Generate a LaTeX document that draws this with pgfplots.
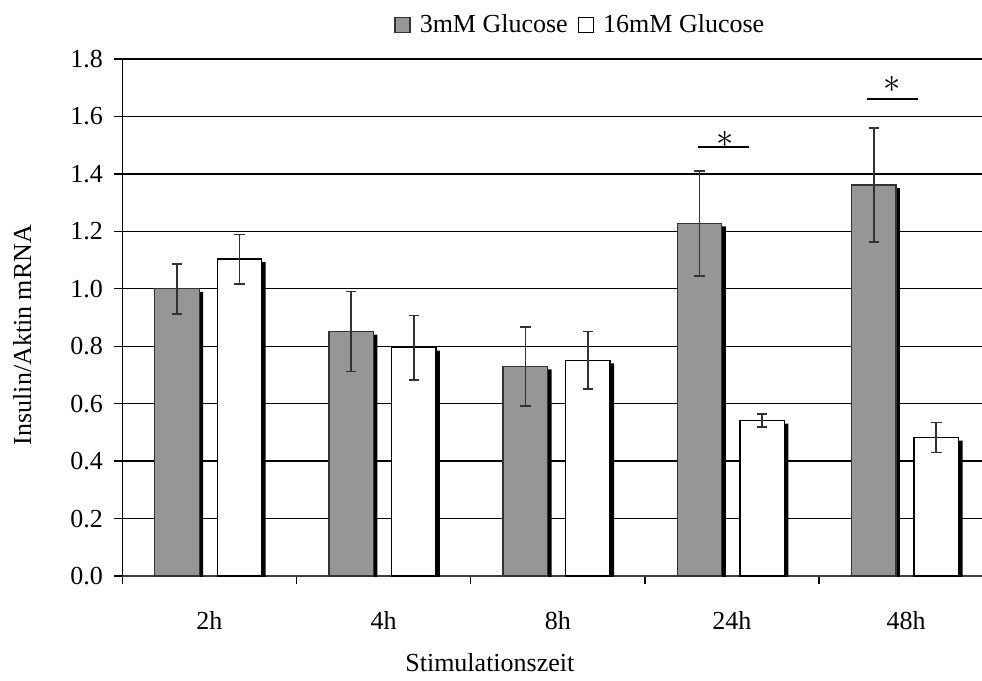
\documentclass[border=0pt]{standalone}
\usepackage{pgfplots}
\pgfplotsset{compat=1.18}
\usepackage{pgfplotstable}
\usepackage{fontspec}
\setmainfont{Liberation Serif}
\definecolor{barg}{RGB}{150,150,150}
\definecolor{errc}{RGB}{50,50,50}
\pgfplotstableread{
x y e
0 1.000 0.087
1 0.851 0.139
2 0.730 0.137
3 1.228 0.183
4 1.361 0.199
}\lowdata
\pgfplotstableread{
x y e
0 1.103 0.086
1 0.795 0.112
2 0.751 0.100
3 0.541 0.023
4 0.482 0.052
}\highdata
\begin{document}
\begin{tikzpicture}[font=\fontsize{13}{15.6}\selectfont]
\begin{axis}[
  scale only axis,
  width=435.5pt, height=258.5pt,
  xmin=-0.5, xmax=4.5,
  ymin=0, ymax=1.8,
  axis lines*=left,
  x axis line style={draw=black!75, line width=0.9pt},
  y axis line style={draw=black, line width=0.7pt},
  tick align=outside,
  major tick length=4pt,
  tick style={black, line width=0.7pt},
  xtick={-0.5,0.5,1.5,2.5,3.5,4.5},
  x tick label as interval,
  xticklabels={2h,4h,8h,24h,48h},
  xticklabel style={yshift=-10pt},
  ytick={0,0.2,0.4,0.6,0.8,1.0,1.2,1.4,1.6,1.8},
  yticklabel style={xshift=-2.2pt},
  yticklabel style={/pgf/number format/.cd, fixed, fixed zerofill, precision=1, assume math mode=true},
  ymajorgrids,
  grid style={black, line width=0.65pt},
  xlabel={Stimulationszeit},
  ylabel={Insulin/Aktin mRNA},
  xlabel style={at={(axis description cs:0.422,-0.168)}, anchor=center},
  ylabel style={at={(axis description cs:-0.1148,0.466)}, anchor=center},
  legend style={at={(axis description cs:0.527,1.0658)}, anchor=center, draw=none, fill=none,
     legend columns=2, /tikz/every even column/.append style={column sep=3pt},
     font=\fontsize{13}{15.6}\selectfont},
  legend image code/.code={\draw[#1] (0pt,-3.7pt) rectangle (7.5pt,3.7pt); \path (10pt,0pt);},
  error bars/error bar style={errc, line width=0.85pt},
  error bars/error mark options={errc, rotate=90, mark size=2.6pt, line width=0.85pt},
]
% shadows
\addplot[ybar, bar width=0.255, bar shift=-0.186, fill=black, draw=none, xshift=2pt, yshift=-1.5pt, forget plot]
  table[x=x, y=y] {\lowdata};
\addplot[ybar, bar width=0.255, bar shift=0.173, fill=black, draw=none, xshift=2pt, yshift=-1.5pt, forget plot]
  table[x=x, y=y] {\highdata};
% bars
\addplot[ybar, bar width=0.255, bar shift=-0.186, fill=barg, draw=black!80, line width=0.7pt]
  table[x=x, y=y] {\lowdata};
\addlegendentry{3mM Glucose}
\addplot[ybar, bar width=0.255, bar shift=0.173, fill=white, draw=black, line width=0.7pt]
  table[x=x, y=y] {\highdata};
\addlegendentry{16mM Glucose}
% error bars
\addplot[draw=none, mark=none, forget plot, error bars/.cd, y dir=both, y explicit]
  table[x expr=\thisrow{x}-0.186, y=y, y error=e] {\lowdata};
\addplot[draw=none, mark=none, forget plot, error bars/.cd, y dir=both, y explicit]
  table[x expr=\thisrow{x}+0.173, y=y, y error=e] {\highdata};
% significance
\addplot[black, line width=0.9pt, forget plot] coordinates {(2.805,1.493) (3.098,1.493)};
\addplot[black, line width=0.9pt, forget plot] coordinates {(3.775,1.660) (4.068,1.660)};
\node[inner sep=0pt] at (axis cs:2.96,1.521) {\fontsize{18}{18}\selectfont$\ast$};
\node[inner sep=0pt] at (axis cs:3.917,1.712) {\fontsize{18}{18}\selectfont$\ast$};
\end{axis}
\pgfresetboundingbox
\path[use as bounding box] (-61.15pt,-52.5pt) rectangle (429.85pt,288pt);
\end{tikzpicture}
\end{document}
